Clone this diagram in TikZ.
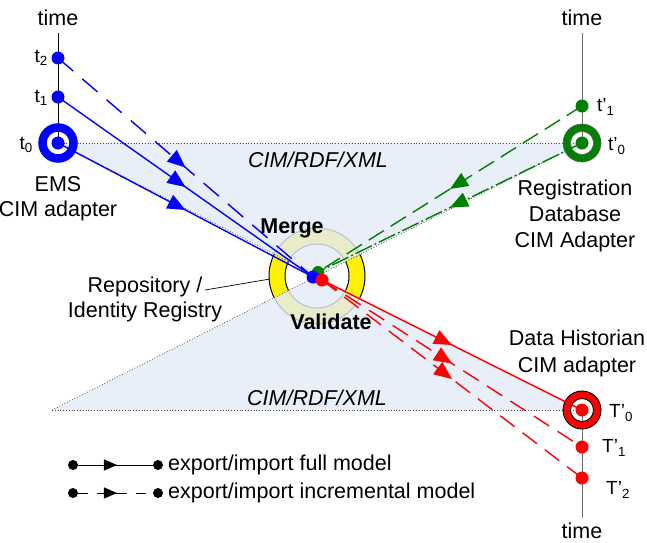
\documentclass[tikz,border=0pt]{standalone}
\usepackage{fontspec}
\setmainfont{Liberation Sans}
\usetikzlibrary{arrows.meta,decorations.markings}
\definecolor{cblue}{RGB}{0,0,255}
\definecolor{cgreen}{RGB}{0,128,0}
\definecolor{cred}{RGB}{255,0,0}
\definecolor{cimfill}{RGB}{228,235,247}
\definecolor{axisgray}{RGB}{110,110,110}
\begin{document}
\begin{tikzpicture}[x=1pt,y=-1pt,
  lbl/.style={font=\fontsize{21.5}{25}\selectfont, align=center, inner sep=0},
  tl/.style={font=\fontsize{19}{20}\selectfont, inner sep=0},
  dotn/.style={circle, fill=#1, minimum size=13pt, inner sep=0},
  ldot/.style={circle, fill=black, minimum size=10pt, inner sep=0},
  flow/.style={postaction={decorate}, decoration={markings,
     mark=at position 0.5 with {\arrow{Triangle[length=18pt,width=15pt]}}}},
  link/.style={line width=1.4pt},
  bdash/.style={dash pattern=on 20pt off 12pt},
  gdash/.style={dash pattern=on 18pt off 8pt},
  gdashdot/.style={dash pattern=on 18pt off 3pt on 2pt off 3pt},
  rdash/.style={dash pattern=on 18pt off 10pt},
  edge/.style={dotted, draw=black!70, line width=0.8pt},
  axis/.style={line width=0.8pt}
]
\useasboundingbox (0,0) rectangle (647,542);

% key points
\coordinate (c) at (317,276);
\coordinate (L) at (52,410);
\coordinate (la) at (58,33);
\coordinate (ra) at (582,33);
\coordinate (ba) at (582,518);

% central ring
\fill[yellow, even odd rule] (c) circle (48) (c) circle (32);
\draw[line width=1pt] (c) circle (48) (c) circle (32);

% shaded triangles
\fill[cimfill, fill opacity=0.82] (58,143) -- (582,143) -- (c) -- cycle;
\fill[cimfill, fill opacity=0.82] (L) -- (582,410) -- (c) -- cycle;
\draw[edge] (58,143) -- (582,143);
\draw[edge] (58,143) -- (c);
\draw[edge] (582,143) -- (c);
\draw[edge] (L) -- (582,410);
\draw[edge] (L) -- (c);

\node[lbl, font=\fontsize{21.5}{25}\selectfont\itshape] (x1) at (318,160) {CIM/RDF/XML};
\node[lbl, font=\fontsize{21.5}{25}\selectfont\itshape] (x2) at (317,398) {CIM/RDF/XML};

% axes
\draw[axis] (la) -- (58,143);
\draw[axis, axisgray] (ra) -- (582,143);
\draw[axis, axisgray] (582,410) -- (ba);
\node[lbl] (time1) at (58,18) {time};
\node[lbl] (time2) at (582,18) {time};
\node[lbl] (time3) at (582,531) {time};

% rings
\draw[cblue, line width=8.5pt] (58,143) circle (15.5);
\draw[cgreen, line width=7.5pt] (582,143) circle (15.3);
\draw[black!60, line width=0.6pt] (582,143) circle (19) (582,143) circle (11.5);
\draw[cred, line width=7.5pt] (582,410) circle (15.3);
\draw[black, line width=0.9pt] (582,410) circle (19) (582,410) circle (11.5);

% dots
\node[dotn=cblue] (t2) at (58,58) {};
\node[dotn=cblue] (t1) at (58,97) {};
\node[dotn=cblue] (t0) at (58,143) {};
\node[dotn=cgreen] (u1) at (582,106) {};
\node[dotn=cgreen] (u0) at (582,143) {};
\node[dotn=cred] (T0) at (582,410) {};
\node[dotn=cred] (T1) at (582,447) {};
\node[dotn=cred] (T2) at (582,478) {};

% connectors
\draw[cblue, link, bdash, flow] (t2.center) -- (313,277) coordinate (cb);
\draw[cblue, link, flow] (t1.center) -- (cb);
\draw[cblue, link, flow] (t0.center) -- (cb);
\draw[cgreen, link, gdash, flow] (u1.center) -- (318,272) coordinate (cg);
\draw[cgreen, link, gdashdot, flow] (u0.center) -- (cg);
\coordinate (cr) at (322,280);
\draw[cred, link, flow] (cr) -- (T0.center);
\draw[cred, link, rdash, flow] (cr) -- (T1.center);
\draw[cred, link, rdash, flow] (cr) -- (T2.center);

% center dots
\node[dotn=cgreen, minimum size=12pt] (mg) at (cg) {};
\node[dotn=cblue, minimum size=13pt] (mb) at (cb) {};
\node[dotn=cred, minimum size=13pt] (mr) at (cr) {};

% time labels
\node[tl, anchor=east] (lt2) at (48,58) {t\textsubscript{2}};
\node[tl, anchor=east] (lt1) at (48,98) {t\textsubscript{1}};
\node[tl, anchor=east] (lt0) at (33,145) {t\textsubscript{0}};
\node[tl, anchor=west] (lu1) at (597,107) {t’\textsubscript{1}};
\node[tl, anchor=west] (lu0) at (608,146) {t’\textsubscript{0}};
\node[tl, anchor=west] (lT0) at (609,413) {T’\textsubscript{0}};
\node[tl, anchor=west] (lT1) at (602,448) {T’\textsubscript{1}};
\node[tl, anchor=west] (lT2) at (606,490) {T’\textsubscript{2}};

% adapter labels
\node[lbl] (ems) at (58,199) {EMS\\CIM adapter};
\node[lbl, font=\fontsize{21.5}{26}\selectfont] (reg) at (575,216) {Registration\\Database\\CIM Adapter};
\node[lbl, font=\fontsize{21.5}{27}\selectfont] (hist) at (577,353) {Data Historian\\CIM adapter};
\node[lbl, font=\fontsize{21.5}{25}\selectfont\bfseries] (merge) at (292,228) {Merge};
\node[lbl, font=\fontsize{21.5}{25}\selectfont\bfseries] (valid) at (331,322) {Validate};
\node[lbl] (repo) at (145,299) {Repository /\\Identity Registry};
\coordinate (rp) at (270,279);
\draw[line width=0.7pt] (205,290) -- (rp);

% legend
\node[ldot] (a1) at (73,465) {};
\node[ldot] (b1) at (158,465) {};
\draw[line width=1pt, postaction={decorate}, decoration={markings,
  mark=at position 0.52 with {\arrow{Triangle[length=13pt,width=11pt]}}}] (a1) -- (b1);
\node[lbl, anchor=west] (l1) at (168,465) {export/import full model};
\node[ldot] (a2) at (73,493) {};
\node[ldot] (b2) at (158,493) {};
\draw[line width=1pt, dash pattern=on 10pt off 9pt on 30pt off 9pt, postaction={decorate}, decoration={markings,
  mark=at position 0.52 with {\arrow{Triangle[length=13pt,width=11pt]}}}] (a2) -- (b2);
\node[lbl, anchor=west] (l2) at (168,493) {export/import incremental model};
\end{tikzpicture}
\end{document}
